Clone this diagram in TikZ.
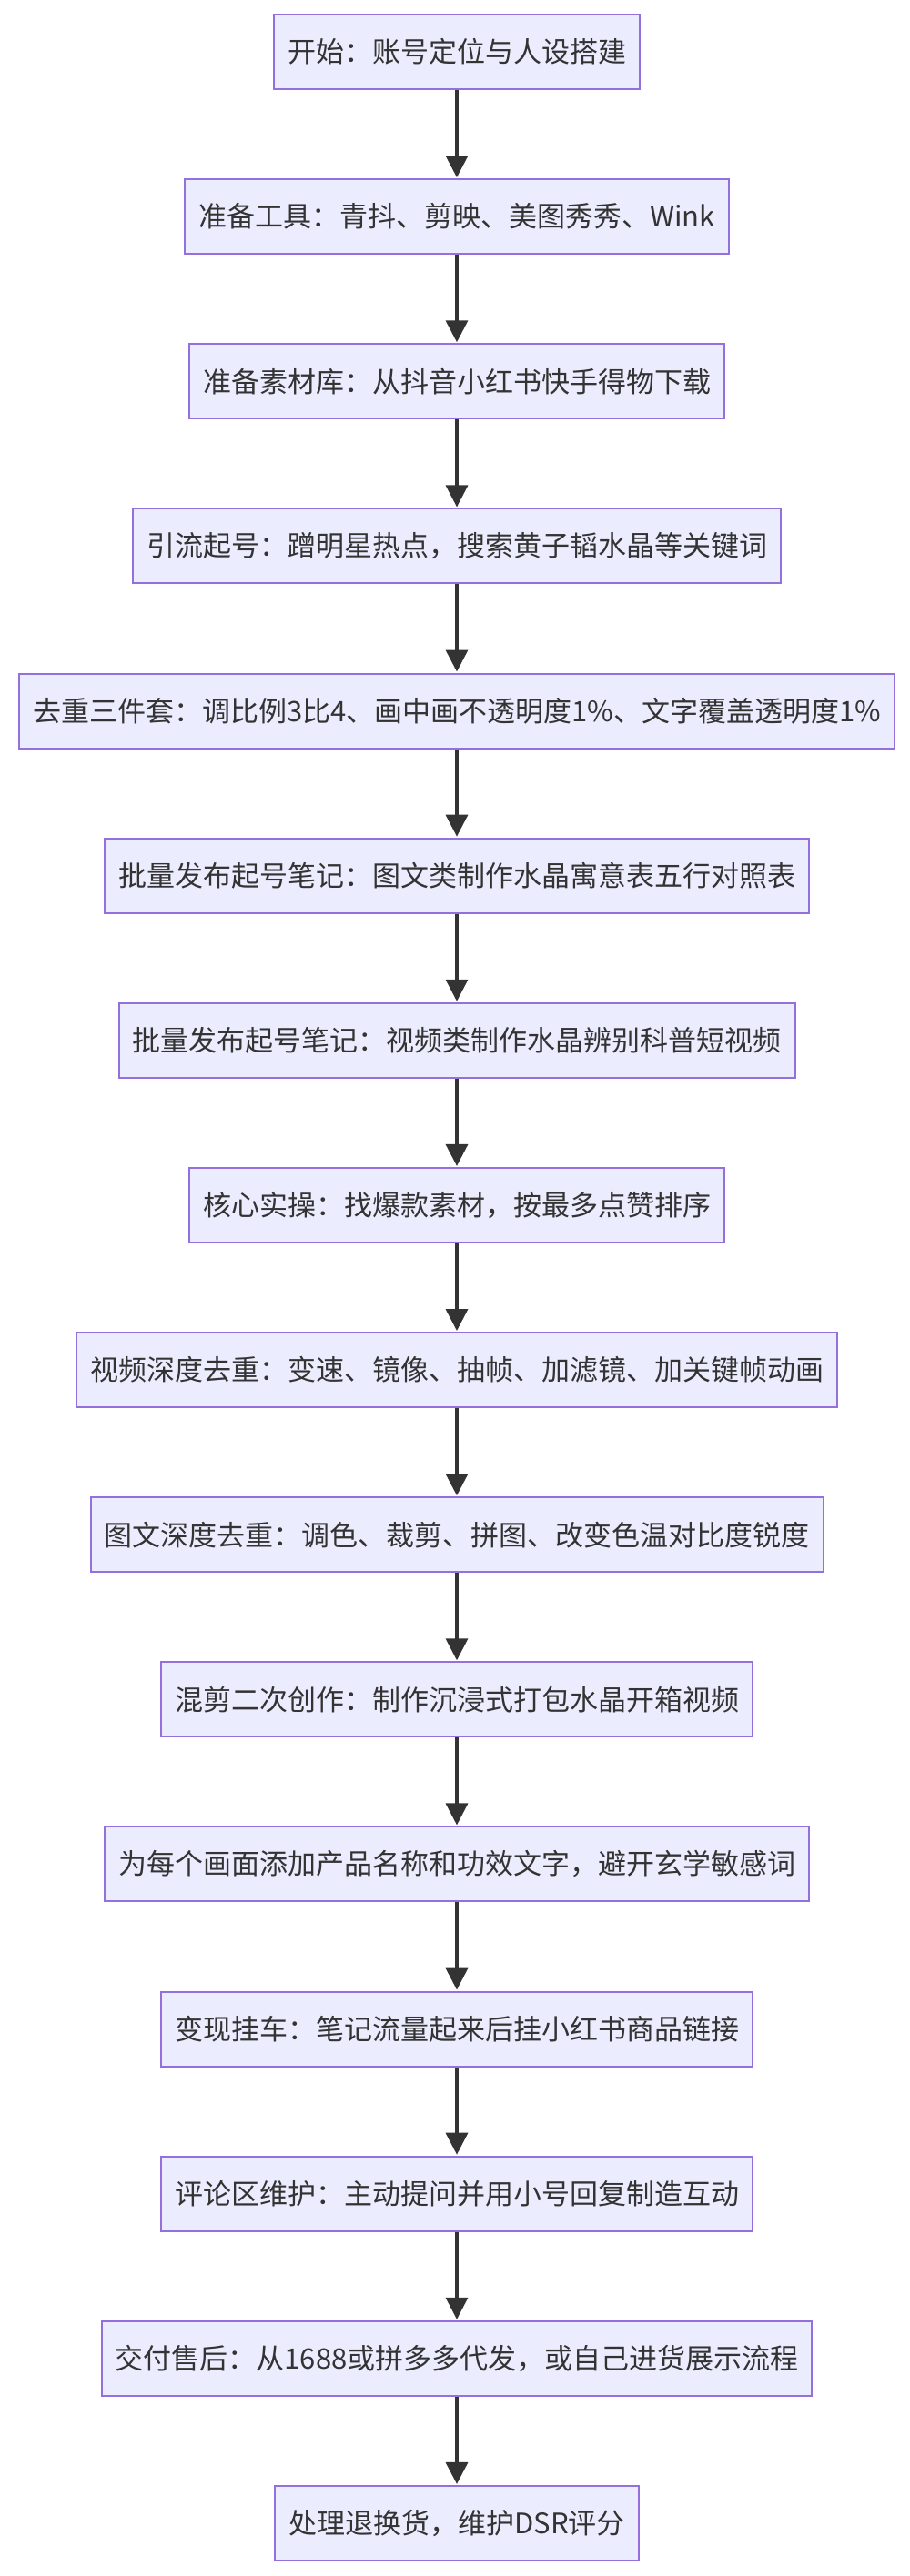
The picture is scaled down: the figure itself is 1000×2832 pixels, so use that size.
\documentclass[tikz,border=0pt]{standalone}
\usepackage{fontspec}
\setmainfont{Noto Sans CJK SC}
\usetikzlibrary{arrows.meta}
\definecolor{boxfill}{HTML}{ECECFF}
\definecolor{boxline}{HTML}{9370DB}
\definecolor{ink}{HTML}{333333}
\tikzset{
  stepbox/.style={draw=boxline, fill=boxfill, line width=2pt, minimum height=82pt,
    inner xsep=15pt, inner ysep=0pt, text=ink, font=\fontsize{31}{36}\selectfont},
  flow/.style={draw=ink, line width=3.5pt, -{Triangle[length=24pt,width=24pt]}, shorten >=1pt}
}
\begin{document}
\begin{tikzpicture}[x=1pt,y=-1pt]
\useasboundingbox (0,0) rectangle (1000,2832);
\foreach \i/\t in {
 1/{开始：账号定位与人设搭建},
 2/{准备工具：青抖、剪映、美图秀秀、Wink},
 3/{准备素材库：从抖音小红书快手得物下载},
 4/{引流起号：蹭明星热点，搜索黄子韬水晶等关键词},
 5/{去重三件套：调比例3比4、画中画不透明度1\%、文字覆盖透明度1\%},
 6/{批量发布起号笔记：图文类制作水晶寓意表五行对照表},
 7/{批量发布起号笔记：视频类制作水晶辨别科普短视频},
 8/{核心实操：找爆款素材，按最多点赞排序},
 9/{视频深度去重：变速、镜像、抽帧、加滤镜、加关键帧动画},
 10/{图文深度去重：调色、裁剪、拼图、改变色温对比度锐度},
 11/{混剪二次创作：制作沉浸式打包水晶开箱视频},
 12/{为每个画面添加产品名称和功效文字，避开玄学敏感词},
 13/{变现挂车：笔记流量起来后挂小红书商品链接},
 14/{评论区维护：主动提问并用小号回复制造互动},
 15/{交付售后：从1688或拼多多代发，或自己进货展示流程},
 16/{处理退换货，维护DSR评分}}
{
  \node[stepbox] (n\i) at (502, {57+(\i-1)*181.13}) {\t};
}
\foreach \i [evaluate=\i as \j using int(\i+1)] in {1,...,15}{
  \draw[flow] (n\i.south) -- (n\j.north);
}
\end{tikzpicture}
\end{document}
